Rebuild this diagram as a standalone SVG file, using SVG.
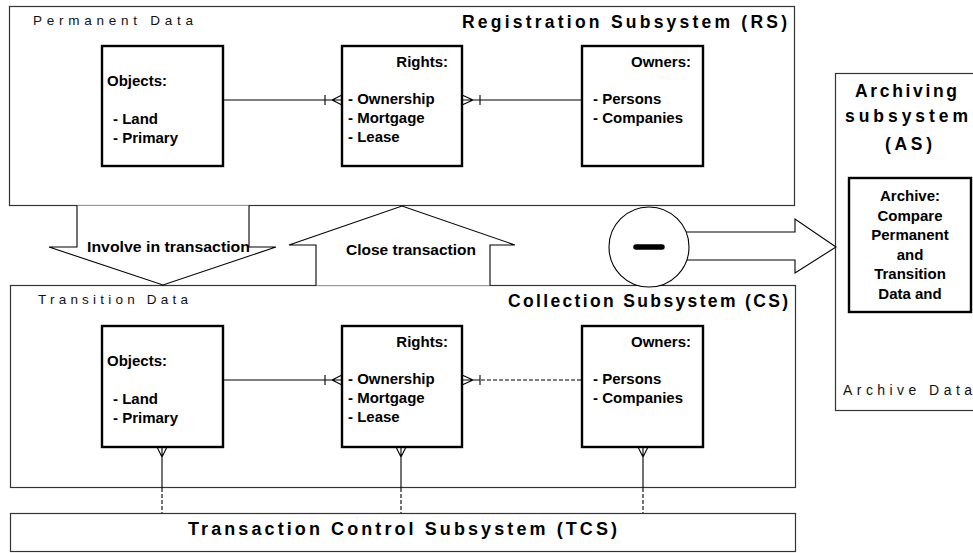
<svg xmlns="http://www.w3.org/2000/svg" width="973" height="553" viewBox="0 0 973 553">
  <style>
    .frame { fill: #ffffff; stroke: #333333; stroke-width: 1.2; }
    .entity { fill: #ffffff; stroke: #000000; stroke-width: 2.4; }
    .flow { fill: #ffffff; stroke: #000000; stroke-width: 1.1; }
    .link { fill: none; stroke: #000000; stroke-width: 1.1; }
    .dash { fill: none; stroke: #000000; stroke-width: 1.1; stroke-dasharray: 4 2; }
    .title { font-family: "Liberation Sans", Arial, sans-serif; font-weight: bold; font-size: 17.5px; fill: #000000; }
    .store { font-family: "Liberation Sans", Arial, sans-serif; font-size: 13.5px; fill: #111111; }
    .item { font-family: "Liberation Sans", Arial, sans-serif; font-weight: bold; font-size: 15px; fill: #000000; }
    .mid { text-anchor: middle; }
    .end { text-anchor: end; }
  </style>

  <!-- subsystem frames -->
  <g id="rs">
    <rect class="frame" x="9.5" y="6.5" width="785" height="199"/>
    <text class="store" x="33" y="25" textLength="160" lengthAdjust="spacing">Permanent Data</text>
    <text class="title" x="462" y="28" textLength="325" lengthAdjust="spacing">Registration Subsystem (RS)</text>
  </g>

  <g id="cs">
    <rect class="frame" x="10.5" y="285.5" width="785" height="202"/>
    <text class="store" x="38" y="304" textLength="150" lengthAdjust="spacing">Transition Data</text>
    <text class="title" x="508" y="307" textLength="280" lengthAdjust="spacing">Collection Subsystem (CS)</text>
  </g>

  <g id="tcs">
    <rect class="frame" x="10.5" y="513.5" width="785" height="38"/>
    <text class="title" x="188" y="535" textLength="429" lengthAdjust="spacing" style="font-size:18px">Transaction Control Subsystem (TCS)</text>
  </g>

  <g id="as">
    <rect class="frame" x="835.5" y="73.5" width="150" height="337"/>
    <text class="title" x="855" y="97" textLength="102" lengthAdjust="spacing">Archiving</text>
    <text class="title" x="845" y="122" textLength="123" lengthAdjust="spacing">subsystem</text>
    <text class="title" x="885" y="150" textLength="47" lengthAdjust="spacing">(AS)</text>
    <text class="store" x="843" y="395" textLength="129" lengthAdjust="spacing" style="font-size:14px">Archive Data</text>
  </g>

  <!-- transfer arrows between subsystems -->
  <g id="involve">
    <path class="flow" d="M77,205.5 V247 H49 L163,285 L276,247 H249 V205.5"/>
    <text class="item" x="87" y="252" textLength="163" lengthAdjust="spacingAndGlyphs">Involve in transaction</text>
  </g>

  <g id="close">
    <path class="flow" d="M316,285.5 V245 H289 L402,206 L515,245 H490 V285.5"/>
    <text class="item" x="346" y="255" textLength="130" lengthAdjust="spacingAndGlyphs">Close transaction</text>
  </g>

  <g id="difference">
    <path class="flow" d="M686,232 H795 V219 L836,247 L795,273 V260 H687"/>
    <circle class="flow" cx="649" cy="247" r="40"/>
    <line x1="636" y1="247" x2="662" y2="247" stroke="#000000" stroke-width="5.5" stroke-linecap="round"/>
  </g>

  <!-- entities in the registration subsystem -->
  <g id="rs-objects">
    <rect class="entity" x="102" y="46" width="121" height="120"/>
    <text class="item" x="107" y="86">Objects:</text>
    <text class="item" x="113" y="124">- Land</text>
    <text class="item" x="113" y="143">- Primary</text>
  </g>
  <g id="rs-rights">
    <rect class="entity" x="342" y="46" width="120" height="120"/>
    <text class="item end" x="448" y="67">Rights:</text>
    <text class="item" x="348" y="104">- Ownership</text>
    <text class="item" x="348" y="123">- Mortgage</text>
    <text class="item" x="348" y="142">- Lease</text>
  </g>
  <g id="rs-owners">
    <rect class="entity" x="582" y="46" width="121" height="120"/>
    <text class="item end" x="691" y="67">Owners:</text>
    <text class="item" x="593" y="104">- Persons</text>
    <text class="item" x="593" y="123">- Companies</text>
  </g>

  <!-- entities in the collection subsystem -->
  <g id="cs-objects">
    <rect class="entity" x="102" y="326" width="121" height="121"/>
    <text class="item" x="107" y="366">Objects:</text>
    <text class="item" x="113" y="404">- Land</text>
    <text class="item" x="113" y="423">- Primary</text>
  </g>
  <g id="cs-rights">
    <rect class="entity" x="342" y="326" width="120" height="121"/>
    <text class="item end" x="448" y="347">Rights:</text>
    <text class="item" x="348" y="384">- Ownership</text>
    <text class="item" x="348" y="403">- Mortgage</text>
    <text class="item" x="348" y="422">- Lease</text>
  </g>
  <g id="cs-owners">
    <rect class="entity" x="582" y="326" width="121" height="121"/>
    <text class="item end" x="691" y="347">Owners:</text>
    <text class="item" x="593" y="384">- Persons</text>
    <text class="item" x="593" y="403">- Companies</text>
  </g>

  <!-- relationship lines with crow's-foot ends -->
  <g id="connectors">
    <!-- registration: objects - rights - owners -->
    <path class="link" d="M223,100 H342 M325,95 V105 M342,95 L332,100 L342,105"/>
    <path class="link" d="M462,100 H582 M462,95 L473,100 L462,105 M480,95 V105"/>

    <!-- collection: objects - rights - owners -->
    <path class="link" d="M223,380 H342 M325,375 V385 M342,375 L332,380 L342,385"/>
    <path class="link" d="M462,380 H480 M462,375 L473,380 L462,385 M480,375 V385"/>
    <path class="dash" d="M481,380 H582"/>

    <!-- collection entities down to transaction control -->
    <path class="link" d="M162,447 V488 M157,447 L162,457 L167,447"/>
    <path class="dash" d="M162,488 V513"/>
    <path class="link" d="M401,447 V488 M396,447 L401,457 L406,447"/>
    <path class="dash" d="M401,488 V513"/>
    <path class="link" d="M643,447 V488 M638,447 L643,457 L648,447"/>
    <path class="dash" d="M643,488 V513"/>
  </g>

  <!-- archive entity -->
  <g id="as-archive">
    <rect class="entity" x="849" y="178" width="122" height="134"/>
    <text class="item mid" x="910" y="201">Archive:</text>
    <text class="item mid" x="910" y="221">Compare</text>
    <text class="item mid" x="910" y="240">Permanent</text>
    <text class="item mid" x="910" y="260">and</text>
    <text class="item mid" x="910" y="279">Transition</text>
    <text class="item mid" x="910" y="299">Data and</text>
  </g>
</svg>
